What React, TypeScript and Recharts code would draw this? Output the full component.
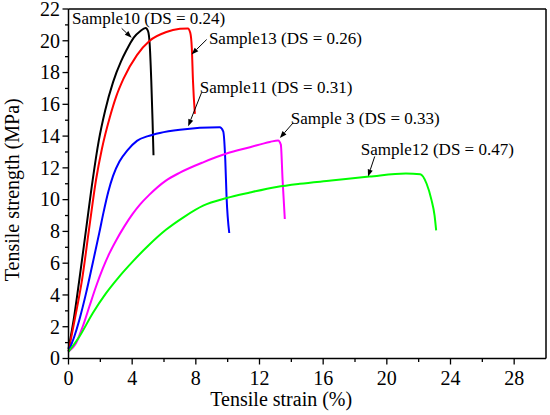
import { LineChart, Line, XAxis, YAxis, ReferenceLine, ReferenceDot } from 'recharts'

const FONT = '"Liberation Serif", "DejaVu Serif", serif'

// strain (%) / stress (MPa)
const sample10Strain = [0, 0.35, 0.68, 1.1, 1.52, 1.9, 2.3, 2.8, 3.3, 3.64, 4.1, 4.5, 4.85, 5.0, 5.1, 5.2, 5.28, 5.34]
const sample10Stress = [0.6, 2.6, 4.95, 8.1, 11.25, 13.7, 15.6, 17.4, 18.7, 19.4, 20.2, 20.6, 20.8, 20.6, 19.8, 17.5, 15.0, 12.8]

const sample13Strain = [0, 0.4, 0.85, 1.3, 1.73, 2.1, 2.6, 3.0, 3.45, 4.3, 5.1, 6.15, 7.0, 7.5, 7.65, 7.75, 7.82, 7.94]
const sample13Stress = [0.45, 2.5, 4.95, 8.2, 11.25, 13.2, 15.2, 16.5, 17.6, 19.1, 20.0, 20.55, 20.75, 20.78, 20.5, 19.5, 17.5, 15.4]

const sample11Strain = [0, 0.36, 0.68, 1.1, 1.52, 1.93, 2.2, 2.5, 2.8, 3.2, 3.7, 4.3, 5.0, 5.74, 7.0, 9.5, 9.72, 9.85, 9.93, 10.1]
const sample11Stress = [0.45, 1.37, 2.43, 4.1, 6.0, 7.89, 9.2, 10.5, 11.5, 12.4, 13.1, 13.7, 14.0, 14.2, 14.4, 14.55, 14.3, 12.5, 10.2, 7.9]

const sample3Strain = [0, 0.47, 0.89, 1.31, 1.73, 2.15, 2.56, 3.0, 3.5, 4.03, 4.5, 5.07, 6.12, 7.0, 8.46, 9.93, 11.4, 12.65, 13.17, 13.34, 13.45, 13.59]
const sample3Stress = [0.43, 0.96, 2.0, 3.27, 4.53, 5.65, 6.6, 7.45, 8.3, 9.1, 9.7, 10.3, 11.2, 11.7, 12.35, 12.9, 13.3, 13.63, 13.73, 13.46, 11.25, 8.78]

const sample12Strain = [0, 0.68, 1.52, 2.35, 3.19, 4.03, 5.07, 6.12, 7.27, 8.46, 9.93, 11.4, 13.07, 14.53, 16.5, 18.9, 21.2, 22.1, 22.5, 22.8, 23.0, 23.1]
const sample12Stress = [0.43, 1.37, 2.85, 4.1, 5.16, 6.1, 7.16, 8.1, 8.92, 9.62, 10.1, 10.45, 10.8, 11.0, 11.2, 11.45, 11.65, 11.6, 11.0, 10.0, 9.0, 8.06]

const xTicks = [0, 2, 4, 6, 8, 10, 12, 14, 16, 18, 20, 22, 24, 26, 28]
const yTicks = [0, 1, 2, 3, 4, 5, 6, 7, 8, 9, 10, 11, 12, 13, 14, 15, 16, 17, 18, 19, 20, 21, 22]

const noteText = ['Sample10 (DS = 0.24)', 'Sample13 (DS = 0.26)', 'Sample11 (DS = 0.31)', 'Sample 3 (DS = 0.33)', 'Sample12 (DS = 0.47)']
const noteX = [0.22, 8.82, 8.25, 13.97, 18.36]
const noteY = [21.03, 19.77, 16.74, 14.78, 12.83]
const arrowFromX = [3.34, 8.68, 8.36, 14.11, 19.24]
const arrowFromY = [20.78, 20.08, 16.74, 14.83, 12.72]
const arrowToX = [3.97, 7.73, 7.52, 13.28, 18.82]
const arrowToY = [20.19, 19.14, 14.62, 13.88, 11.46]

const toPoints = (xs: number[], ys: number[]) => xs.map((x, i) => ({ x, y: ys[i] }))

const series = [
  { name: 'Sample10', color: '#000000', data: toPoints(sample10Strain, sample10Stress) },
  { name: 'Sample13', color: '#ff0000', data: toPoints(sample13Strain, sample13Stress) },
  { name: 'Sample11', color: '#0000ff', data: toPoints(sample11Strain, sample11Stress) },
  { name: 'Sample3', color: '#ff00ff', data: toPoints(sample3Strain, sample3Stress) },
  { name: 'Sample12', color: '#00ff00', data: toPoints(sample12Strain, sample12Stress) },
]

const textStyle = { fontFamily: FONT, fill: '#000' }

function XTick({ x, y, payload }: any) {
  const major = payload.value % 4 === 0
  return (
    <g>
      <line x1={x} y1={y} x2={x} y2={y + (major ? 6 : 3.5)} stroke="#000" strokeWidth={1.3} />
      {major && (
        <text x={x} y={y + 26.5} textAnchor="middle" fontSize={20} style={textStyle}>
          {payload.value}
        </text>
      )}
    </g>
  )
}

function YTick({ x, y, payload }: any) {
  const major = payload.value % 2 === 0
  return (
    <g>
      <line x1={x} y1={y} x2={x - (major ? 6 : 3.5)} y2={y} stroke="#000" strokeWidth={1.3} />
      {major && (
        <text x={x - 8.5} y={y + 6.8} textAnchor="end" fontSize={20} style={textStyle}>
          {payload.value}
        </text>
      )}
    </g>
  )
}

function Arrow({ x1, y1, x2, y2 }: any) {
  const ang = Math.atan2(y2 - y1, x2 - x1)
  const c = Math.cos(ang)
  const s = Math.sin(ang)
  const bx = x2 - 7 * c
  const by = y2 - 7 * s
  return (
    <g>
      <line x1={x1} y1={y1} x2={bx} y2={by} stroke="#000" strokeWidth={1} />
      <polygon points={`${x2},${y2} ${bx - 2.6 * s},${by + 2.6 * c} ${bx + 2.6 * s},${by - 2.6 * c}`} fill="#000" />
    </g>
  )
}

export default function App() {
  return (
    <div style={{ position: 'absolute', left: 0, top: 0, background: '#fff' }}>
      <LineChart width={550} height={415} margin={{ top: 9, right: 4, left: 0, bottom: 0 }}>
        <XAxis
          type="number"
          dataKey="x"
          domain={[0, 30]}
          ticks={xTicks}
          interval={0}
          height={56.5}
          tickSize={0}
          tickMargin={0}
          tickLine={false}
          tick={<XTick />}
          axisLine={{ stroke: '#000', strokeWidth: 1.5 }}
          label={{
            content: ({ viewBox }: any) => (
              <text x={viewBox.x + viewBox.width / 2 - 26} y={viewBox.y + 47} textAnchor="middle" fontSize={20} style={textStyle}>
                Tensile strain (%)
              </text>
            ),
          }}
        />
        <YAxis
          type="number"
          domain={[0, 22]}
          ticks={yTicks}
          interval={0}
          width={68.5}
          tickSize={0}
          tickMargin={0}
          tickLine={false}
          tick={<YTick />}
          axisLine={{ stroke: '#000', strokeWidth: 1.5 }}
          label={{
            content: ({ viewBox }: any) => {
              const cx = viewBox.x + 19
              const cy = viewBox.y + viewBox.height / 2 + 6
              return (
                <text x={cx} y={cy} transform={`rotate(-90 ${cx} ${cy})`} textAnchor="middle" fontSize={20} style={textStyle}>
                  Tensile strength (MPa)
                </text>
              )
            },
          }}
        />
        <ReferenceLine y={22} stroke="#000" strokeWidth={1.5} />
        <ReferenceLine x={30} stroke="#000" strokeWidth={1.5} />
        {series.map(s => (
          <Line
            key={s.name}
            data={s.data}
            dataKey="y"
            type="monotone"
            stroke={s.color}
            strokeWidth={2}
            dot={false}
            isAnimationActive={false}
          />
        ))}
        {noteText.map((t, i) => (
          <ReferenceLine
            key={'a' + i}
            segment={[{ x: arrowFromX[i], y: arrowFromY[i] }, { x: arrowToX[i], y: arrowToY[i] }]}
            shape={<Arrow />}
            ifOverflow="visible"
          />
        ))}
        {noteText.map((t, i) => (
          <ReferenceDot
            key={'t' + i}
            x={noteX[i]}
            y={noteY[i]}
            r={0}
            ifOverflow="visible"
            shape={(p: any) => (
              <text x={p.cx} y={p.cy} fontSize={17} style={textStyle}>
                {t}
              </text>
            )}
          />
        ))}
      </LineChart>
    </div>
  )
}
